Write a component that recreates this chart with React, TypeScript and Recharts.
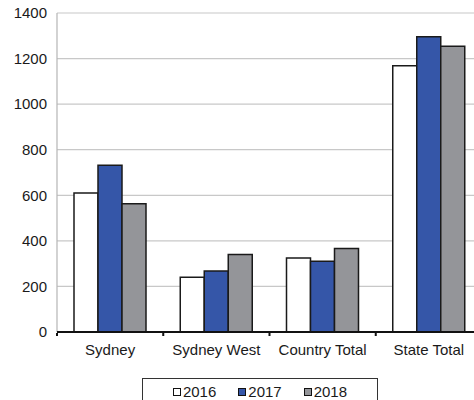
import { Bar, BarChart, CartesianGrid, Legend, XAxis, YAxis } from "recharts";

const CATEGORIES = ["Sydney", "Sydney West", "Country Total", "State Total"];
const VALUES_2016 = [610, 240, 325, 1168];
const VALUES_2017 = [732, 268, 311, 1296];
const VALUES_2018 = [563, 340, 367, 1254];
const Y_TICKS = [0, 200, 400, 600, 800, 1000, 1200, 1400];

const SERIES = [
  { key: "2016", color: "#ffffff" },
  { key: "2017", color: "#3556a8" },
  { key: "2018", color: "#949599" },
];

const data = CATEGORIES.map((name, i) => ({
  name,
  "2016": VALUES_2016[i],
  "2017": VALUES_2017[i],
  "2018": VALUES_2018[i],
}));

const FONT = "'Liberation Sans', Arial, sans-serif";

function CategoryTick(props: any) {
  const { x, y, payload } = props;
  const left = payload.coordinate - (payload.offset ?? 0);
  return (
    <g>
      <rect x={left - 1} y={y - 1} width={2} height={3} fill="#111" />
      <text
        x={x}
        y={y + 10}
        dy="0.71em"
        textAnchor="middle"
        fontSize={15}
        fontFamily={FONT}
        fill="#1a1a1a"
      >
        {payload.value}
      </text>
    </g>
  );
}

function BoxLegend() {
  return (
    <div
      style={{
        boxSizing: "border-box",
        width: "100%",
        height: "100%",
        border: "1.5px solid #333",
        display: "flex",
        justifyContent: "center",
        alignItems: "flex-start",
        gap: 22,
        paddingTop: 5,
        fontFamily: FONT,
        fontSize: 15,
        lineHeight: "15px",
        color: "#1a1a1a",
      }}
    >
      {SERIES.map((s) => (
        <span key={s.key} style={{ display: "flex", alignItems: "center", height: 15 }}>
          <span
            style={{
              display: "inline-block",
              boxSizing: "border-box",
              width: 8,
              height: 8,
              marginRight: 2,
              background: s.color,
              border: "1.5px solid #111",
            }}
          />
          {s.key}
        </span>
      ))}
    </div>
  );
}

export default function App() {
  return (
    <div style={{ position: "absolute", left: 0, top: 0, width: 474, height: 400, overflow: "hidden", background: "#fff" }}>
      <BarChart
        width={500}
        height={400}
        data={data}
        margin={{ top: 13, right: 18, left: 0, bottom: 38 }}
        barCategoryGap="16%"
        barGap={0}
      >
        <CartesianGrid vertical={false} stroke="#c8c8c8" strokeWidth={1.2} />
        <YAxis
          domain={[0, 1400]}
          ticks={Y_TICKS}
          width={57}
          tickSize={0}
          tickMargin={10}
          axisLine={{ stroke: "#b5b5b5", strokeWidth: 1.2 }}
          tick={{ fontSize: 15, fontFamily: FONT, fill: "#1a1a1a" }}
        />
        <XAxis
          dataKey="name"
          height={30}
          tickSize={0}
          axisLine={{ stroke: "#111", strokeWidth: 2 }}
          tick={<CategoryTick />}
          interval={0}
        />
        <Legend
          layout="vertical"
          align="center"
          verticalAlign="middle"
          content={<BoxLegend />}
          wrapperStyle={{ left: 142, top: 378, width: 236, height: 30 }}
        />
        {SERIES.map((s) => (
          <Bar
            key={s.key}
            dataKey={s.key}
            fill={s.color}
            stroke="#1a1a1a"
            strokeWidth={1.5}
            isAnimationActive={false}
          />
        ))}
      </BarChart>
    </div>
  );
}
